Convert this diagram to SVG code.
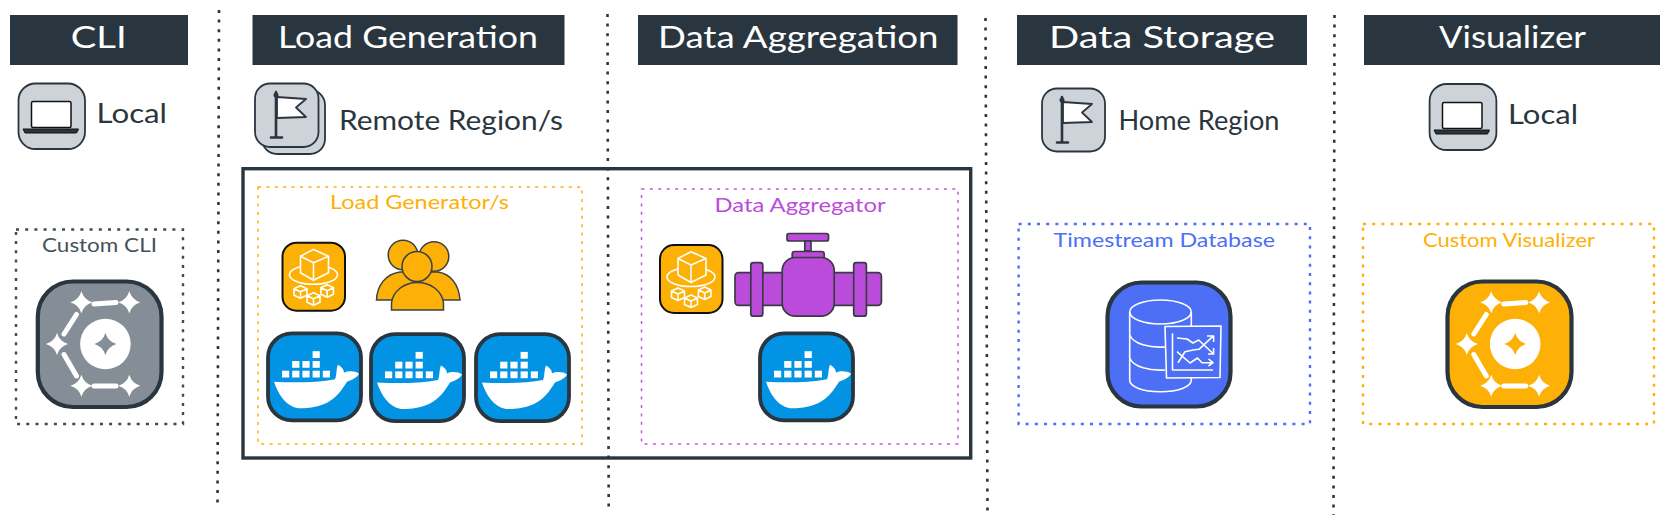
<svg xmlns="http://www.w3.org/2000/svg" width="1670" height="522" viewBox="0 0 1670 522">
<style>
text{font-family:"Lato","Noto Sans","Liberation Sans",sans-serif}
.hdr{fill:#2a363f}
.ht{fill:#fff;font-size:30px;text-anchor:start}
.lbl{fill:#2a363f;font-size:27px}
.sm{font-size:19px}
.sep{fill:none;stroke:#2a363f;stroke-width:2.6;stroke-dasharray:3 6.6}
.zone{fill:none;stroke-linecap:butt}
.region{fill:#ced2d9;stroke:#2a363f;stroke-width:1.8}
.wl{fill:none;stroke:#fff;stroke-width:1.6;stroke-linejoin:round}
.whale{fill:#fff}
</style>
<defs>
<g id="laptop">
<rect x="31.5" y="101.5" width="39.5" height="26" rx="1.5" fill="#fff" stroke="#111" stroke-width="1.5"/>
<path d="M23 129H78.5L76.5 133H25Z" fill="#2a363f" stroke="#111" stroke-width="1"/>
</g>
<g id="flag">
<path d="M276 92V137M271 137.500H282" fill="none" stroke="#2a363f" stroke-width="2.600" stroke-linecap="round"/>
<path d="M277 97L306 99L296 107.500L306 117L277 118Z" fill="#fff" stroke="#2a363f" stroke-width="1.800" stroke-linejoin="round"/>
<circle cx="276" cy="95" r="2.500" fill="#2a363f"/>
</g>
<g id="docker">
<rect x="1" y="1.700" width="93" height="87" rx="24" fill="#0393e4" stroke="#2a363f" stroke-width="3.800"/>
<g class="whale">
<rect x="15" y="39" width="7.200" height="6.800"/><rect x="25.200" y="39" width="7.200" height="6.800"/><rect x="35.400" y="39" width="7.200" height="6.800"/><rect x="45.600" y="39" width="7.200" height="6.800"/><rect x="55.800" y="39" width="7.200" height="6.800"/>
<rect x="25.200" y="29.300" width="7.200" height="6.800"/><rect x="35.400" y="29.300" width="7.200" height="6.800"/><rect x="45.600" y="29.300" width="7.200" height="6.800"/>
<rect x="45.600" y="19.500" width="7.200" height="6.800"/>
<path d="M7 50C25 51 50 51 68 47.500C70 43 69 37 71 33C75 35 77 38 77 41C81 39 88 39 92 42C90 46 85 48 80 50C75 58 69 67 59 71.500C49 76 37 77 31 76.500C18 74 11 62 7 50Z"/>
</g>
</g>
<g id="lambda">
<rect x="1" y="1" width="62.500" height="68" rx="14" fill="#fdb005" stroke="#111" stroke-width="2"/>
<g class="wl">
<ellipse cx="32" cy="33" rx="24" ry="9.500"/>
<path d="M32 7.700L47 14.500V31L32 38.500L19 31V14.500Z" fill="#fdb005"/>
<path d="M19 14.500L32 21L47 14.500M32 21V38.500"/>
<path d="M19 44L25.500 47V53.500L19 56.500L12.500 53.500V47ZM12.500 47L19 50L25.500 47M19 50V56.500"/>
<path d="M45.700 43L52 46V52.500L45.700 55.500L39.400 52.500V46ZM39.400 46L45.700 49L52 46M45.700 49V55.500"/>
<path d="M32 51L38.500 54V60.500L32 63.500L25.500 60.500V54ZM25.500 54L32 57L38.500 54M32 57V63.500"/>
</g>
</g>
<path id="spark" d="M0-11Q2.500-2.500 11 0Q2.500 2.500 0 11Q-2.500 2.500-11 0Q-2.500-2.500 0-11Z"/>
<g id="hex">
<g fill="#fff">
<use href="#spark" x="81.400" y="302.300"/><use href="#spark" x="129.300" y="302.300"/><use href="#spark" x="57" y="344"/><use href="#spark" x="81.400" y="385.700"/><use href="#spark" x="129.300" y="385.700"/>
<circle cx="105.400" cy="344" r="25.300"/>
</g>
<path d="M94 304L116 302.500M76.500 314.500L64 334M64 354.500L76.500 376M94 386L116 386" fill="none" stroke="#fff" stroke-width="5" stroke-linecap="round"/>
</g>
</defs>

<g id="separators">
<path class="sep" d="M219 10L217.500 508"/>
<path class="sep" d="M607.500 14L608.700 513"/>
<path class="sep" d="M985.500 18L987.500 516"/>
<path class="sep" d="M1334.500 15L1333.500 515"/>
</g>

<g id="head-cli"><rect class="hdr" x="10" y="15" width="178" height="50"/><text class="ht" x="70.700" y="48" textLength="56" lengthAdjust="spacingAndGlyphs">CLI</text></g>
<g id="head-load"><rect class="hdr" x="252.500" y="15" width="312" height="50"/><text class="ht" x="278" y="48" textLength="260" lengthAdjust="spacingAndGlyphs">Load Generation</text></g>
<g id="head-agg"><rect class="hdr" x="638" y="15" width="319.500" height="50"/><text class="ht" x="658" y="48" textLength="280.500" lengthAdjust="spacingAndGlyphs">Data Aggregation</text></g>
<g id="head-store"><rect class="hdr" x="1017" y="15" width="290" height="50"/><text class="ht" x="1049" y="48" textLength="226" lengthAdjust="spacingAndGlyphs">Data Storage</text></g>
<g id="head-vis"><rect class="hdr" x="1364" y="15" width="296" height="50"/><text class="ht" x="1439" y="48" textLength="147" lengthAdjust="spacingAndGlyphs">Visualizer</text></g>

<g id="region-local-cli">
<rect class="region" x="18.500" y="83.500" width="66.500" height="65.500" rx="17"/>
<use href="#laptop"/>
<text class="lbl" x="96.500" y="123" textLength="70.500" lengthAdjust="spacingAndGlyphs">Local</text>
</g>
<g id="region-remote">
<rect class="region" x="262" y="90" width="63" height="64" rx="15"/>
<rect class="region" x="255" y="83.500" width="63.500" height="63.500" rx="15"/>
<use href="#flag"/>
<text class="lbl" x="339" y="130" textLength="224" lengthAdjust="spacingAndGlyphs">Remote Region/s</text>
</g>
<g id="region-home">
<rect class="region" x="1042" y="88.500" width="63" height="63" rx="15"/>
<use href="#flag" transform="translate(786 5)"/>
<text class="lbl" x="1118.500" y="130" textLength="161" lengthAdjust="spacingAndGlyphs">Home Region</text>
</g>
<g id="region-local-vis">
<rect class="region" x="1429.600" y="84" width="66.800" height="66" rx="17"/>
<use href="#laptop" transform="translate(1411 1)"/>
<text class="lbl" x="1508" y="124" textLength="70" lengthAdjust="spacingAndGlyphs">Local</text>
</g>

<g id="custom-cli">
<rect class="zone" x="16" y="229.500" width="167" height="194.500" stroke="#3f4a52" stroke-width="2.400" stroke-dasharray="3 6.200"/>
<text class="sm" x="42" y="251.700" fill="#45525a" textLength="115" lengthAdjust="spacingAndGlyphs">Custom CLI</text>
<rect x="37.800" y="281.500" width="123.700" height="125.500" rx="35" fill="#858e96" stroke="#2a363f" stroke-width="4.200"/>
<use href="#hex"/>
<use href="#spark" x="105.400" y="344" fill="#858e96"/>
</g>

<g id="cluster">
<rect x="243" y="168.700" width="727.700" height="289.300" fill="none" stroke="#2a363f" stroke-width="3.400"/>
</g>

<g id="load-generator">
<rect class="zone" x="258" y="187" width="324" height="257" stroke="#fdb005" stroke-width="1.500" stroke-dasharray="3 5.400"/>
<text class="sm" x="330" y="209" fill="#fdb005" textLength="179" lengthAdjust="spacingAndGlyphs">Load Generator/s</text>
<use href="#lambda" transform="translate(281.500 241.700)"/>
<g id="users" fill="#fdb005" stroke="#3a4148" stroke-width="1.500">
<circle cx="403" cy="255" r="14.800"/><circle cx="434" cy="256.500" r="14.800"/>
<path d="M376.500 300C377 285 386 274 400 272H438C451 274 459 285 460 300Z"/>
<circle cx="417" cy="266.500" r="15"/>
<path d="M391.500 310V303C393 291 404 282.500 417.500 282.500C431 282.500 442 291 443.500 303V310Z"/>
</g>
<use href="#docker" transform="translate(267 331.700)"/>
<use href="#docker" transform="translate(370 332.400)"/>
<use href="#docker" transform="translate(475 332.400)"/>
</g>

<g id="data-aggregator">
<rect class="zone" x="641.500" y="189" width="316.500" height="255" stroke="#cc50e8" stroke-width="1.500" stroke-dasharray="3 5.400"/>
<text class="sm" x="714.600" y="212" fill="#bb4cdb" textLength="171" lengthAdjust="spacingAndGlyphs">Data Aggregator</text>
<use href="#lambda" transform="translate(659 244)"/>
<g id="valve" fill="#bb4cdb" stroke="#3a3a44" stroke-width="1.700">
<rect x="787" y="233.500" width="41.500" height="7.500" rx="2"/>
<rect x="804.800" y="241" width="6.200" height="10"/>
<rect x="792.200" y="251.500" width="32" height="8" rx="2.500"/>
<rect x="735" y="272.700" width="146.400" height="32.600" rx="3.500"/>
<rect x="750.800" y="262.700" width="12" height="53.500" rx="2.500"/>
<rect x="853.700" y="262.700" width="12.700" height="53.500" rx="2.500"/>
<rect x="782.200" y="257.500" width="52" height="58.700" rx="13"/>
</g>
<use href="#docker" transform="translate(759 331.700)"/>
</g>

<g id="timestream">
<rect class="zone" x="1018.600" y="224" width="291.400" height="200" stroke="#4c6ff5" stroke-width="2.400" stroke-dasharray="3 6.200"/>
<text class="sm" x="1053.600" y="247" fill="#4c6ff5" textLength="221.400" lengthAdjust="spacingAndGlyphs">Timestream Database</text>
<rect x="1107.500" y="282.500" width="123" height="124" rx="34" fill="#4c6ff5" stroke="#2a363f" stroke-width="4.200"/>
<g class="wl">
<ellipse cx="1160.500" cy="312" rx="30.800" ry="12"/>
<path d="M1129.700 312V380C1129.700 387 1143 391.700 1160.500 391.700C1178 391.700 1191.300 387 1191.300 380V312"/>
<path d="M1129.700 335C1133 344 1150 348 1165 347M1129.700 358C1133 367 1150 371 1165 370"/>
<path d="M1165 326.500L1221 326L1220 377.500L1166.500 378Z" fill="#4c6ff5"/>
<path d="M1172.500 333.300V370H1213"/>
<path d="M1177 338L1187 339L1193 343L1198.600 340L1213.600 354M1208 354H1213.600V348"/>
<path d="M1177 351.700L1190 363L1197.500 358L1202 362.700H1213M1208.500 359L1213 362.700L1208.500 366"/>
<path d="M1178 362.700L1185 351.700L1193 350L1199 349.300L1213.600 335.700M1207 336H1213.600V342"/>
</g>
</g>

<g id="custom-visualizer">
<rect class="zone" x="1363" y="224" width="291" height="200" stroke="#fdb005" stroke-width="2.400" stroke-dasharray="3 6.200"/>
<text class="sm" x="1423" y="246.700" fill="#fdb005" textLength="172" lengthAdjust="spacingAndGlyphs">Custom Visualizer</text>
<rect x="1447.500" y="281.500" width="124" height="125.500" rx="35" fill="#fdb005" stroke="#2a363f" stroke-width="4.200"/>
<use href="#hex" transform="translate(1409.800 0)"/>
<use href="#spark" x="1515.200" y="344" fill="#fdb005"/>
</g>
</svg>
